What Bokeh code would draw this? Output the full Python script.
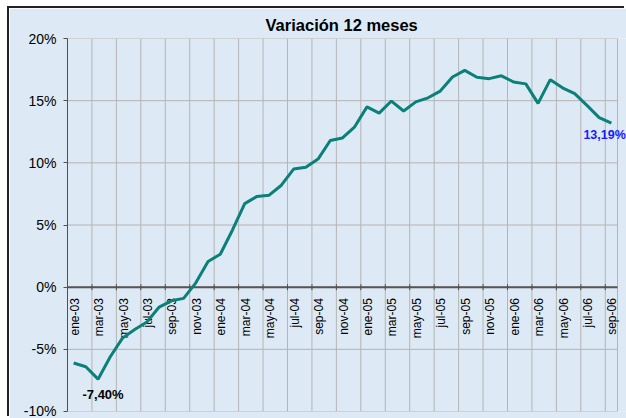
import numpy as np
from bokeh.plotting import figure
from bokeh.models import Range1d, FixedTicker, PrintfTickFormatter, Label
from bokeh.embed import file_html
from bokeh.resources import INLINE
from bokeh.core.properties import value

# ---------------- data ----------------
categories = [
    "ene-03", "feb-03", "mar-03", "abr-03", "may-03", "jun-03", "jul-03", "ago-03",
    "sep-03", "oct-03", "nov-03", "dic-03",
    "ene-04", "feb-04", "mar-04", "abr-04", "may-04", "jun-04", "jul-04", "ago-04",
    "sep-04", "oct-04", "nov-04", "dic-04",
    "ene-05", "feb-05", "mar-05", "abr-05", "may-05", "jun-05", "jul-05", "ago-05",
    "sep-05", "oct-05", "nov-05", "dic-05",
    "ene-06", "feb-06", "mar-06", "abr-06", "may-06", "jun-06", "jul-06", "ago-06",
    "sep-06",
]
variacion = [
    -6.10, -6.40, -7.40, -5.60, -4.10, -3.40, -2.80, -1.60, -1.10, -0.90, 0.35, 2.07,
    2.65, 4.60, 6.72, 7.30, 7.40, 8.20, 9.50, 9.65, 10.30, 11.80, 12.00, 12.90,
    14.50, 14.00, 14.97, 14.17, 14.90, 15.23, 15.77, 16.90, 17.44, 16.88, 16.77, 17.00,
    16.50, 16.35, 14.78, 16.69, 16.03, 15.57, 14.62, 13.64, 13.19,
]
y_ticks = [-10, -5, 0, 5, 10, 15, 20]
label_step = 2
title_text = "Variación 12 meses"

# ---------------- styling ----------------
BG = "#dde9f5"
PAGE_BG = "#e6e6e6"
FONT = "Liberation Sans"
LINE_COLOR = "#0a8078"
GRID = "#b4b4b4"
AXIS = "#505050"
PLOT_W = 550      # width of the plot area in px
RIGHT_PAD = 9     # chart background to the right of the plot area
LEFT = 58

n = len(categories)
x = np.arange(n) + 0.5
boundaries = list(range(0, n + 1, label_step))
ymin, ymax = min(y_ticks), max(y_ticks)

p = figure(
    width=LEFT + PLOT_W + RIGHT_PAD, height=410,
    x_range=Range1d(0, n * (PLOT_W + RIGHT_PAD) / PLOT_W), y_range=Range1d(ymin, ymax),
    output_backend="svg", toolbar_location=None,
    x_axis_location=None,
    min_border_left=LEFT, min_border_right=0, min_border_top=27, min_border_bottom=7,
    background_fill_color=BG, border_fill_color=BG,
    title=title_text,
)
p.title.text_font = FONT
p.title.text_font_size = "16.5px"
p.title.text_font_style = "bold"
p.title.text_color = "black"
p.title.align = "left"
p.title.offset = 198

p.outline_line_color = None
p.xgrid.visible = False
p.ygrid.visible = False

yax = p.yaxis[0]
yax.ticker = FixedTicker(ticks=y_ticks)
yax.formatter = PrintfTickFormatter(format="%d%%")
yax.major_label_text_font = FONT
yax.major_label_text_font_size = "14px"
yax.major_label_text_color = "black"
yax.axis_line_color = AXIS
yax.major_tick_line_color = AXIS
yax.major_tick_out = 4
yax.major_tick_in = 0
yax.minor_tick_line_color = None
yax.major_label_standoff = 7

# horizontal grid lines (include top / bottom border of plot area)
p.segment(x0=[0] * len(y_ticks), x1=[n] * len(y_ticks), y0=y_ticks, y1=y_ticks,
          line_color=GRID, line_width=1)
# vertical grid lines plus right border of the plot area
vx = boundaries[1:] + ([n] if n not in boundaries else [])
p.segment(x0=vx, x1=vx, y0=[ymin] * len(vx), y1=[ymax] * len(vx),
          line_color=GRID, line_width=1)

# zero axis line
p.segment(x0=[0], x1=[n], y0=[0], y1=[0], line_color="#555555", line_width=2)

# tick marks on zero axis
p.scatter(x=boundaries, y=[0] * len(boundaries), marker="dash", angle=np.pi / 2,
          size=6, line_color=AXIS, line_width=1)

# category labels
p.text(x=x[::label_step], y=[0] * len(x[::label_step]), text=categories[::label_step],
       angle=np.pi / 2, text_align="right", text_baseline="middle", y_offset=11, x_offset=1,
       text_font=value(FONT), text_font_size="12px", text_color="black")

# data line
p.line(x, variacion, line_color=LINE_COLOR, line_width=3)


def fmt(v):
    return f"{v:.2f}%".replace(".", ",")


imin = int(np.argmin(variacion))
p.add_layout(Label(x=x[imin], y=variacion[imin], text=fmt(variacion[imin]),
                   text_font=FONT, text_font_size="13px", text_font_style="bold",
                   text_color="black", text_align="center", text_baseline="top",
                   x_offset=5, y_offset=-8))
p.add_layout(Label(x=x[-1], y=variacion[-1], text=fmt(variacion[-1]),
                   text_font=FONT, text_font_size="12.5px", text_font_style="bold",
                   text_color="#1a1aff", text_align="left", text_baseline="top",
                   x_offset=-28, y_offset=-5))

p.styles = {
    "margin-left": "9px",
    "margin-top": "8px",
    "box-shadow": "-2px -2px 0 0 #222222",
}

html = file_html(p, INLINE)
html = html.replace("<body>", '<body style="background-color:%s;">' % PAGE_BG, 1)
open("out.html", "w").write(html)
